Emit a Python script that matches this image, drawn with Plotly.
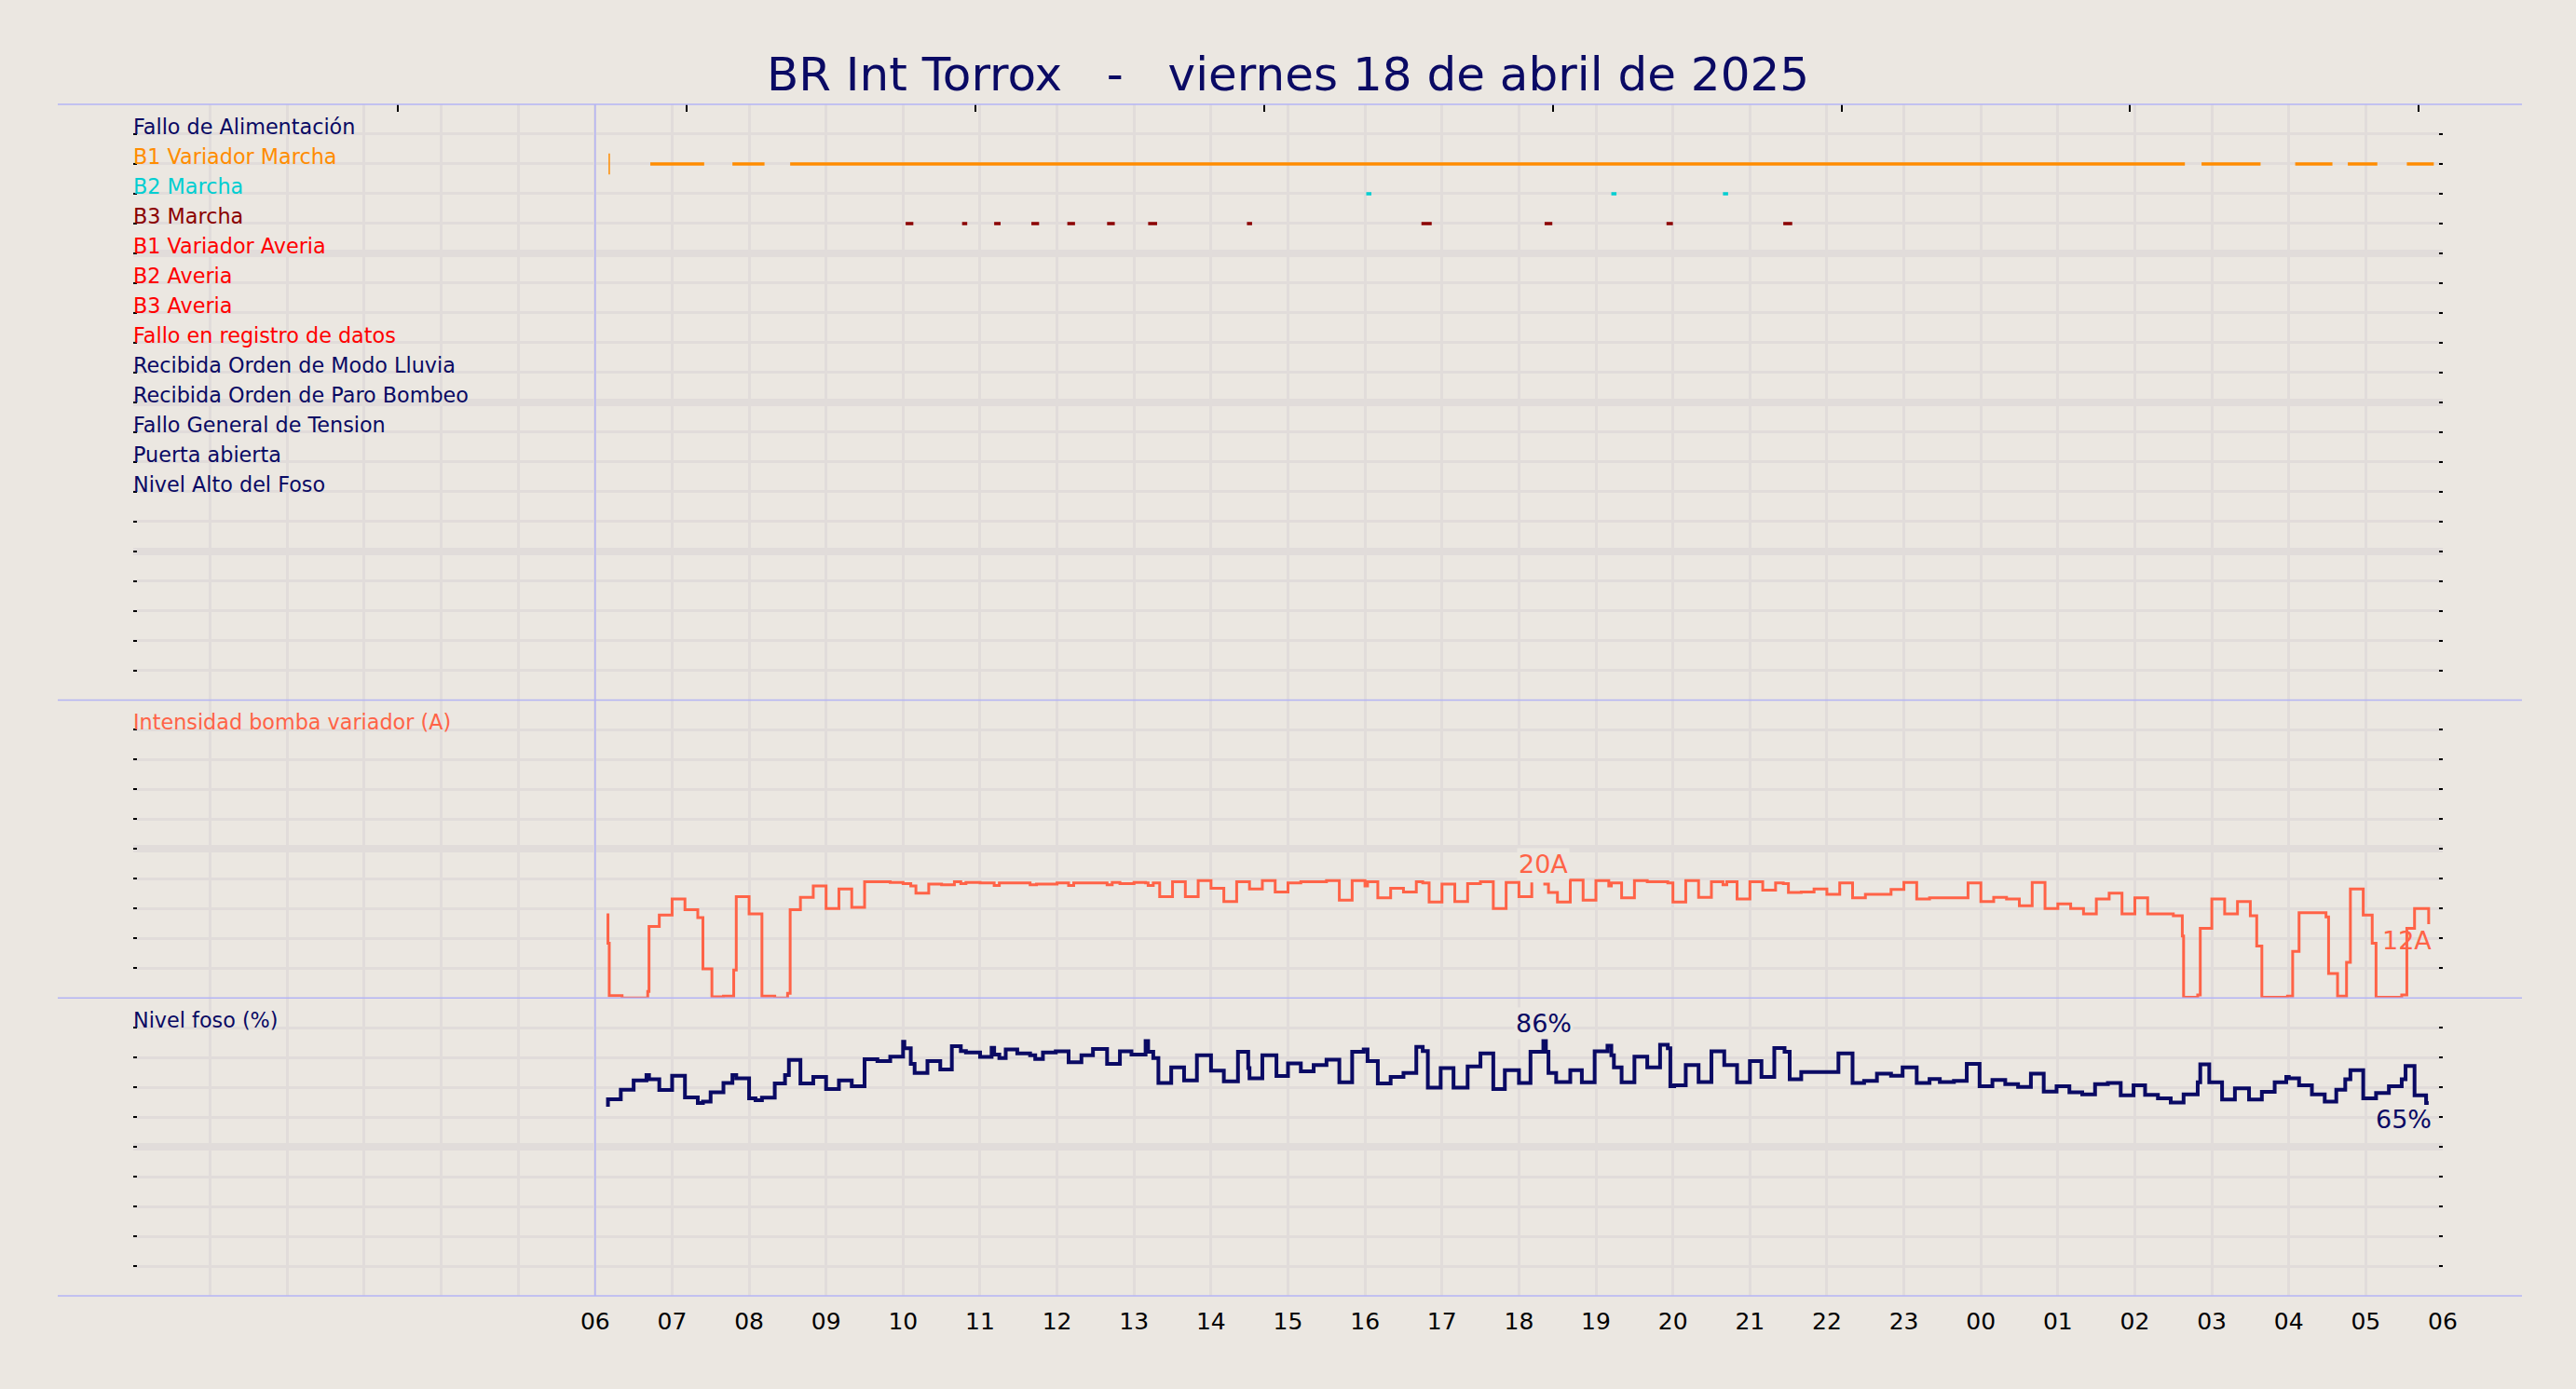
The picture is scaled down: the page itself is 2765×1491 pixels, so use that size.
import plotly.graph_objects as go
from datetime import datetime, timedelta

# ---------------- data ----------------
TITLE = "BR Int Torrox\u00a0\u00a0\u00a0-\u00a0\u00a0\u00a0viernes 18 de abril de 2025"
DAY = "2025-04-18"

signal_names = [
    "Fallo de Alimentación", "B1 Variador Marcha", "B2 Marcha", "B3 Marcha",
    "B1 Variador Averia", "B2 Averia", "B3 Averia", "Fallo en registro de datos",
    "Recibida Orden de Modo Lluvia", "Recibida Orden de Paro Bombeo",
    "Fallo General de Tension", "Puerta abierta", "Nivel Alto del Foso",
]

# on-intervals (start, end) of the digital signals
b1_marcha_start = ["06:11", "06:43", "07:47", "08:32", "02:52", "04:05", "04:46", "05:32"]
b1_marcha_end = ["06:11", "07:25", "08:12", "02:39", "03:38", "04:34", "05:09", "05:53"]
b2_marcha_start = ["16:01", "19:12", "20:39"]
b2_marcha_end = ["16:05", "19:16", "20:43"]
b3_marcha_start = ["10:02", "10:46", "11:11", "11:40", "12:08", "12:39", "13:11", "14:28",
                   "16:44", "18:20", "19:55", "21:26"]
b3_marcha_end = ["10:08", "10:50", "11:16", "11:46", "12:14", "12:45", "13:18", "14:32",
                 "16:52", "18:26", "20:00", "21:33"]

# Intensidad bomba variador (A) - step series
int_time = ["06:10", "06:10", "06:11", "06:21", "06:41", "06:42", "06:50", "07:00", "07:10", "07:20",
            "07:24", "07:31", "07:40", "07:48", "07:50", "08:00", "08:10", "08:20", "08:30", "08:32",
            "08:40", "08:50", "09:00", "09:10", "09:20", "09:30", "09:50", "10:00", "10:06", "10:10",
            "10:20", "10:30", "10:40", "10:45", "10:49", "11:00", "11:11", "11:15", "11:39", "11:44",
            "12:00", "12:09", "12:13", "12:39", "12:43", "12:49", "13:00", "13:09", "13:11", "13:15",
            "13:20", "13:30", "13:40", "13:50", "14:00", "14:10", "14:20", "14:30", "14:40", "14:50",
            "15:00", "15:10", "15:30", "15:40", "15:50", "16:00", "16:02", "16:10", "16:20", "16:30",
            "16:40", "16:45", "16:50", "17:00", "17:10", "17:20", "17:30", "17:40", "17:50", "18:00",
            "18:10", "18:15", "18:19", "18:23", "18:30", "18:40", "18:50", "19:00", "19:10", "19:12",
            "19:20", "19:30", "19:40", "19:56", "20:00", "20:10", "20:20", "20:30", "20:39", "20:42",
            "20:50", "21:00", "21:10", "21:20", "21:26", "21:30", "21:40", "21:50", "22:00", "22:10",
            "22:20", "22:30", "22:50", "23:00", "23:10", "23:20", "23:50", "00:00", "00:10", "00:20",
            "00:30", "00:40", "00:50", "01:00", "01:10", "01:20", "01:30", "01:40", "01:50", "02:00",
            "02:10", "02:30", "02:37", "02:38", "02:49", "02:51", "03:00", "03:10", "03:20", "03:30",
            "03:35", "03:39", "03:59", "04:03", "04:08", "04:29", "04:31", "04:38", "04:45", "04:48",
            "04:58", "05:05", "05:08", "05:28", "05:32", "05:38", "05:49"]
int_value = [14.2, 9.2, 0.4, 0.0, 1.1, 12.0, 13.9, 16.6, 14.8, 13.5,
             4.9, 0.2, 0.3, 4.7, 17.0, 14.1, 0.3, 0.0, 0.8, 14.8,
             16.9, 18.8, 15.0, 18.3, 15.2, 19.5, 19.4, 19.2, 18.8, 17.6,
             19.1, 19.0, 19.5, 19.2, 19.4, 19.3, 18.9, 19.3, 19.0, 19.1,
             19.3, 18.9, 19.3, 19.0, 19.4, 19.2, 19.4, 19.3, 18.9, 19.3,
             17.0, 19.5, 17.0, 19.7, 18.4, 16.2, 19.5, 18.3, 19.7, 17.8,
             19.3, 19.5, 19.7, 16.4, 19.7, 18.8, 19.5, 16.8, 18.4, 17.8,
             19.5, 19.3, 16.1, 19.1, 16.2, 19.2, 19.5, 15.0, 19.4, 17.0,
             19.4, None, 19.1, 17.7, 16.1, 19.8, 16.4, 19.7, 18.8, 19.3,
             16.8, 19.7, 19.5, 19.3, 16.1, 19.7, 16.9, 19.5, 19.0, 19.5,
             16.6, 19.5, 18.1, 19.3, 19.2, 17.7, 17.8, 18.3, 17.4, 19.3,
             16.8, 17.4, 18.2, 19.4, 16.6, 16.8, 19.3, 16.2, 16.9, 16.6,
             15.5, 19.4, 15.0, 15.8, 15.0, 14.1, 16.6, 17.6, 14.1, 16.8,
             14.1, 13.8, 10.4, 0.1, 0.5, 11.7, 16.6, 14.1, 16.2, 13.8,
             8.7, 0.1, 0.3, 7.8, 14.3, 13.6, 4.1, 0.3, 6.0, 18.3,
             13.9, 9.2, 0.1, 0.5, 11.7, 15.0, 12.4]

# Nivel foso (%) - step series
lvl_time = ["06:10", "06:10", "06:20", "06:30", "06:40", "06:42", "06:50", "07:00", "07:10", "07:20",
            "07:24", "07:30", "07:40", "07:47", "07:50", "08:00", "08:05", "08:10", "08:20", "08:28",
            "08:31", "08:40", "08:50", "09:00", "09:10", "09:20", "09:30", "09:40", "09:50", "10:00",
            "10:01", "10:06", "10:09", "10:19", "10:29", "10:38", "10:45", "10:49", "11:00", "11:09",
            "11:11", "11:15", "11:20", "11:29", "11:39", "11:43", "11:49", "11:59", "12:09", "12:19",
            "12:28", "12:39", "12:49", "12:58", "13:09", "13:11", "13:15", "13:19", "13:29", "13:39",
            "13:49", "14:00", "14:10", "14:21", "14:29", "14:30", "14:40", "14:51", "15:00", "15:10",
            "15:20", "15:30", "15:40", "15:50", "15:59", "16:02", "16:10", "16:20", "16:30", "16:40",
            "16:45", "16:49", "16:59", "17:09", "17:20", "17:30", "17:40", "17:49", "18:00", "18:09",
            "18:19", "18:21", "18:23", "18:29", "18:40", "18:49", "18:59", "19:09", "19:12", "19:14",
            "19:20", "19:30", "19:40", "19:50", "19:56", "19:58", "20:01", "20:10", "20:20", "20:30",
            "20:40", "20:50", "21:00", "21:09", "21:19", "21:27", "21:31", "21:40", "22:09", "22:20",
            "22:29", "22:39", "22:50", "22:59", "23:10", "23:20", "23:28", "23:39", "23:49", "23:59",
            "00:09", "00:19", "00:29", "00:39", "00:49", "00:59", "01:09", "01:19", "01:29", "01:39",
            "01:49", "01:59", "02:08", "02:18", "02:28", "02:38", "02:49", "02:51", "02:58", "03:08",
            "03:18", "03:29", "03:39", "03:49", "03:58", "04:00", "04:08", "04:18", "04:28", "04:37",
            "04:44", "04:48", "04:58", "05:08", "05:18", "05:28", "05:31", "05:38", "05:47", "05:49"]
lvl_value = [63.5, 66.0, 69.2, 72.3, 74.1, 72.7, 69.1, 73.9, 66.6, 64.7,
             65.2, 68.3, 71.5, 74.1, 73.0, 66.3, 65.7, 66.5, 71.3, 74.1,
             79.2, 71.3, 73.5, 69.4, 72.3, 70.4, 79.4, 78.8, 80.3, 85.3,
             83.1, 77.9, 74.8, 78.8, 76.0, 83.8, 82.2, 81.7, 80.2, 83.3,
             81.0, 79.8, 82.7, 81.4, 80.8, 79.5, 81.7, 82.1, 78.4, 80.8,
             82.9, 77.9, 82.1, 81.0, 85.5, 81.9, 79.8, 71.5, 76.7, 72.3,
             80.8, 75.6, 72.0, 81.9, 76.5, 73.0, 80.8, 73.8, 78.0, 75.4,
             77.5, 79.3, 71.7, 81.9, 82.7, 78.8, 71.3, 73.5, 74.8, 83.6,
             82.2, 69.9, 76.5, 69.9, 77.0, 81.4, 69.4, 75.8, 71.5, 81.9,
             86.0, 81.9, 74.8, 71.8, 75.8, 71.7, 82.1, 84.0, 80.8, 76.7,
             71.7, 80.3, 76.7, 84.3, 83.1, 70.4, 70.7, 77.5, 71.8, 82.1,
             77.5, 71.7, 78.8, 73.5, 83.2, 81.9, 72.7, 75.1, 81.4, 71.5,
             72.2, 74.6, 73.9, 76.7, 71.5, 72.8, 71.8, 72.2, 77.9, 70.4,
             72.5, 71.1, 70.1, 74.6, 68.6, 70.4, 68.3, 67.6, 71.1, 71.5,
             67.3, 70.7, 67.5, 66.3, 64.9, 67.6, 71.7, 77.7, 71.7, 65.9,
             69.7, 65.9, 68.5, 71.7, 73.5, 73.0, 70.7, 67.6, 65.2, 69.2,
             72.7, 75.8, 66.3, 68.1, 70.4, 72.7, 77.2, 67.3, 64.7, 64.7]

hour_labels = ["06", "07", "08", "09", "10", "11", "12", "13", "14", "15", "16", "17", "18",
               "19", "20", "21", "22", "23", "00", "01", "02", "03", "04", "05", "06"]

# ---------------- style ----------------
NAVY = "#0a0a64"
ORANGE = "#ff8c00"
TURQ = "#00ced1"
DARKRED = "#8b0000"
RED = "#ff0000"
TOMATO = "#ff6347"
BG = "#ebe7e1"
GRID = "#e1dcda"
BLUE = "#b4b4f4"
FONT = "DejaVu Sans"
LABEL_SIZE = 22.3

signal_colors = [NAVY, ORANGE, TURQ, DARKRED, RED, RED, RED, RED, NAVY, NAVY, NAVY, NAVY, NAVY]

base = datetime.strptime(DAY, "%Y-%m-%d")


def to_dt(hhmm):
    h, m = map(int, hhmm.split(":"))
    d = base + timedelta(hours=h, minutes=m)
    if h < 6:
        d += timedelta(days=1)
    return d


fig = go.Figure()

# digital signals
intervals = {
    1: (b1_marcha_start, b1_marcha_end),
    2: (b2_marcha_start, b2_marcha_end),
    3: (b3_marcha_start, b3_marcha_end),
}
for idx, (starts, ends) in intervals.items():
    lev = 19 - idx
    xs, ys = [], []
    for s, e in zip(starts, ends):
        xs += [to_dt(s), to_dt(e), None]
        ys += [lev, lev, None]
    fig.add_trace(go.Scatter(x=xs, y=ys, mode="lines", yaxis="y", xaxis="x",
                             line=dict(color=signal_colors[idx], width=3.5),
                             hoverinfo="skip", showlegend=False))
# the single-instant pulse of B1 Variador Marcha
pulse = [(s, e) for s, e in zip(b1_marcha_start, b1_marcha_end) if s == e]
fig.add_trace(go.Scatter(x=[to_dt(s) for s, e in pulse], y=[18] * len(pulse),
                         mode="markers", yaxis="y", xaxis="x",
                         marker=dict(symbol="line-ns", size=16, color=ORANGE,
                                     line=dict(color=ORANGE, width=1.5)),
                         hoverinfo="skip", showlegend=False))

# intensity
fig.add_trace(go.Scatter(x=[to_dt(t) for t in int_time], y=int_value, mode="lines",
                         line=dict(color=TOMATO, width=3, shape="hv"),
                         connectgaps=False, yaxis="y2", xaxis="x", showlegend=False))
# level
fig.add_trace(go.Scatter(x=[to_dt(t) for t in lvl_time], y=lvl_value, mode="lines",
                         line=dict(color=NAVY, width=4, shape="hv"),
                         yaxis="y3", xaxis="x", showlegend=False))
# empty trace so the top tick axis is drawn
fig.add_trace(go.Scatter(x=[None], y=[None], xaxis="x2", yaxis="y", mode="markers",
                         hoverinfo="skip", showlegend=False))

# ---------------- axes ----------------
x_start = base
x_end = base + timedelta(hours=30)
tickvals = [base + timedelta(hours=h) for h in range(31)]
ticktext = [""] * 6 + hour_labels

fig.update_layout(
    width=2765, height=1491,
    paper_bgcolor=BG, plot_bgcolor=BG,
    margin=dict(l=143, r=143, t=112, b=100),
    font=dict(family=FONT, color="black"),
    title=dict(text=TITLE, x=0.5, xanchor="center", xref="paper",
               y=1 - 79 / 1491, yanchor="middle", yref="container",
               font=dict(family=FONT, size=50, color=NAVY)),
    xaxis=dict(type="date", range=[x_start, x_end], tickvals=tickvals, ticktext=ticktext,
               showgrid=True, gridcolor=GRID, gridwidth=3, zeroline=False,
               ticks="", ticklabelstandoff=10, tickfont=dict(size=25, color="black"),
               anchor="y3", fixedrange=True),
    xaxis2=dict(overlaying="x", side="top", anchor="y", range=[0, 8], tick0=0.917, dtick=1,
                ticks="inside", ticklen=8, tickwidth=1.5, tickcolor="black",
                showticklabels=False, showgrid=False, zeroline=False, fixedrange=True),
)

ycommon = dict(showticklabels=False, zeroline=False, ticks="inside", ticklen=4, tickwidth=2,
               tickcolor="black", mirror="ticks", showgrid=True, gridcolor=GRID, gridwidth=8,
               anchor="x", fixedrange=True)
fig.update_layout(
    yaxis=dict(domain=[0.5, 1.0], range=[0, 20], tick0=0, dtick=5,
               minor=dict(dtick=1, showgrid=True, gridcolor=GRID, gridwidth=3,
                          ticks="inside", ticklen=4, tickcolor="black", tickwidth=2), **ycommon),
    yaxis2=dict(domain=[0.25, 0.5], range=[0, 50], tick0=0, dtick=25,
                minor=dict(dtick=5, showgrid=True, gridcolor=GRID, gridwidth=3,
                           ticks="inside", ticklen=4, tickcolor="black", tickwidth=2), **ycommon),
    yaxis3=dict(domain=[0.0, 0.25], range=[0, 100], tick0=0, dtick=50,
                minor=dict(dtick=10, showgrid=True, gridcolor=GRID, gridwidth=3,
                           ticks="inside", ticklen=4, tickcolor="black", tickwidth=2), **ycommon),
)

# ---------------- separators ----------------
xl, xr = -81 / 2479, 1 + 85 / 2479
for yp in [1.0, 0.5, 0.25, 0.0]:
    fig.add_shape(type="line", xref="paper", yref="paper", x0=xl, x1=xr, y0=yp, y1=yp,
                  line=dict(color=BLUE, width=1.5), layer="above")
fig.add_shape(type="line", xref="x", yref="paper", x0=to_dt("06:00"), x1=to_dt("06:00"),
              y0=0, y1=1, line=dict(color=BLUE, width=1.5), layer="above")

# ---------------- labels ----------------
for i, (name, col) in enumerate(zip(signal_names, signal_colors)):
    fig.add_annotation(text=name, xref="paper", x=0, yref="y", y=19 - i,
                       xanchor="left", yanchor="bottom", yshift=-7, xshift=-2, showarrow=False,
                       font=dict(family=FONT, size=LABEL_SIZE, color=col))
fig.add_annotation(text="Intensidad bomba variador (A)", xref="paper", x=0, yref="y2", y=45,
                   xanchor="left", yanchor="bottom", yshift=-7, xshift=-2, showarrow=False,
                   font=dict(family=FONT, size=LABEL_SIZE, color=TOMATO))
fig.add_annotation(text="Nivel foso (%)", xref="paper", x=0, yref="y3", y=90,
                   xanchor="left", yanchor="bottom", yshift=-7, xshift=-2, showarrow=False,
                   font=dict(family=FONT, size=LABEL_SIZE, color=NAVY))

# max / last value labels
valid_int = [v for v in int_value if v is not None]
i_max = max(range(len(lvl_value)), key=lambda k: lvl_value[k])
peak_x = to_dt(lvl_time[i_max])
fig.add_annotation(text=f"{max(valid_int):.0f}A", x=peak_x, xref="x", y=max(valid_int), yref="y2",
                   xanchor="center", yanchor="bottom", showarrow=False, bgcolor=BG,
                   font=dict(family=FONT, size=27, color=TOMATO))
fig.add_annotation(text=f"{lvl_value[i_max]:.0f}%", x=peak_x, xref="x", y=lvl_value[i_max], yref="y3",
                   xanchor="center", yanchor="bottom", showarrow=False, bgcolor=BG,
                   font=dict(family=FONT, size=27, color=NAVY))
fig.add_annotation(text=f"{int_value[-1]:.0f}A", x=to_dt(int_time[-1]), xref="x", y=int_value[-1],
                   yref="y2", xanchor="right", yanchor="top", xshift=5, showarrow=False,
                   font=dict(family=FONT, size=27, color=TOMATO))
fig.add_annotation(text=f"{lvl_value[-1]:.0f}%", x=to_dt(lvl_time[-1]), xref="x", y=lvl_value[-1],
                   yref="y3", xanchor="right", yanchor="top", xshift=5, showarrow=False,
                   font=dict(family=FONT, size=27, color=NAVY))

fig.write_html(
    "out.html",
    config={"displayModeBar": False},
    post_script=("document.body.style.margin='0';"
                 "document.body.style.background='" + BG + "';"
                 "document.body.style.overflow='hidden';"),
)
